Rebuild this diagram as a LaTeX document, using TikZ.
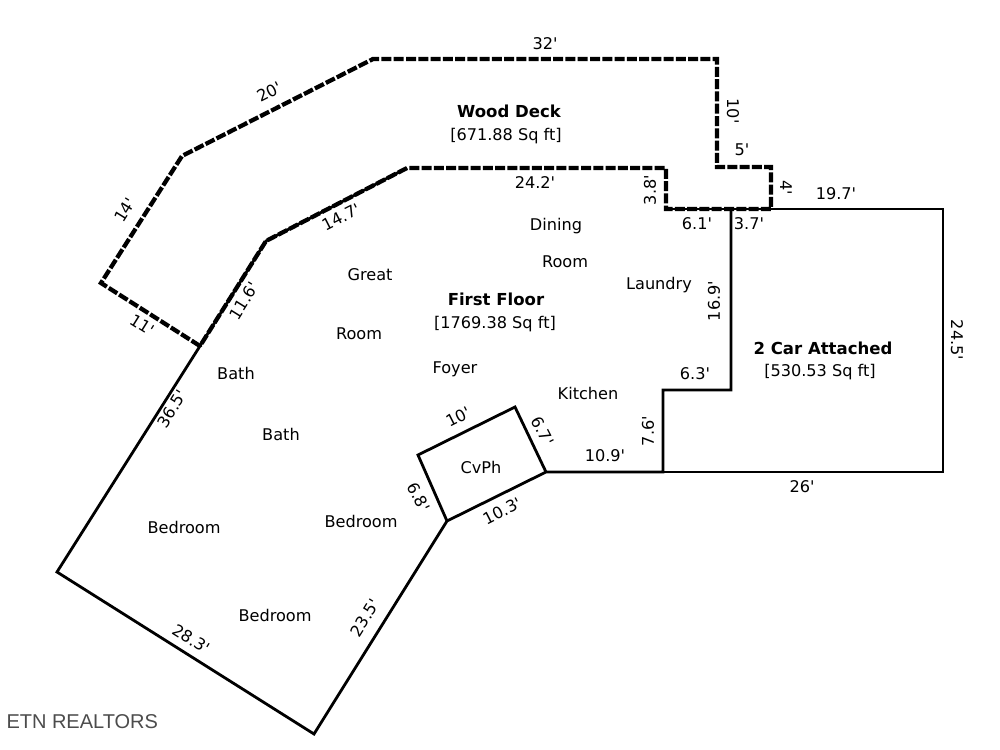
\documentclass[tikz,border=0pt]{standalone}
\usepackage{fontspec}
\setmainfont{DejaVu Sans}[Ligatures=TeXOff]
\newfontfamily\logofont{Liberation Sans}
\tikzset{every picture/.style={line width=0.75pt}}
\tikzset{
	wall/.style={line width=2.1pt,line join=miter},
	deck/.style={line width=3.2pt,dash pattern=on 7.5pt off 1.7pt},
	room/.style={inner sep=0.75pt,font=\fontsize{12.1}{14}\selectfont},
	dim/.style={inner sep=0.75pt,font=\fontsize{12.1}{14}\selectfont},
	head/.style={inner sep=0.75pt,font=\fontsize{12.4}{14}\selectfont\bfseries},
}
\begin{document}
\begin{tikzpicture}[x=0.75pt,y=0.75pt,yscale=-1,xscale=1]
	\useasboundingbox (0,0) rectangle (1000,750);
	%outer corners
	\coordinate (dka) at (200,346);
	\coordinate (dkb) at (101,283);
	\coordinate (dkc) at (182,156);
	\coordinate (dkd) at (373,59);
	\coordinate (dke) at (717,59);
	\coordinate (dkf) at (717,167);
	\coordinate (dkg) at (771,167);
	\coordinate (dkh) at (771,209);
	\coordinate (dki) at (666,209);
	\coordinate (dkj) at (666,168);
	\coordinate (dkk) at (407,168);
	\coordinate (dkl) at (266,241);
	\coordinate (hsa) at (57,572);
	\coordinate (hsb) at (314,734);
	\coordinate (hsc) at (447,521);
	\coordinate (hsd) at (546,472);
	\coordinate (hse) at (663,472);
	\coordinate (hsf) at (663,390);
	\coordinate (hsg) at (731,390);
	\coordinate (hsh) at (731,209);
	\coordinate (gra) at (943,209);
	\coordinate (grb) at (943,472);
	\coordinate (cva) at (418,455);
	\coordinate (cvb) at (515,407);
	
	%First floor
	\draw [wall] (dkk) -- (dkl) -- (dka) -- (hsa) -- (hsb) -- (hsc) -- (hsd) -- (hse) -- (hsf) -- (hsg) -- (hsh) ;
	\draw [wall] (dki) -- (dkh) ;
	%Garage
	\draw [wall] (dkh) -- (gra) -- (grb) -- (hse) ;
	%Covered porch
	\draw [wall] (hsc) -- (cva) -- (cvb) -- (hsd) ;
	%Deck
	\draw [deck] (dka) -- (dkb) -- (dkc) -- (dkd) -- (dke) -- (dkf) -- (dkg) -- (dkh) -- (dki) -- (dkj) -- (dkk) -- (dkl) -- (dka) ;
	
	% Headings
	\node [head] (deckname) at (509,111) {Wood Deck};
	\node [room] (deckarea) at (506,136) {[671.88 Sq ft]};
	\node [head] (floorname) at (496,299) {First Floor};
	\node [room] (floorarea) at (495,324) {[1769.38 Sq ft]};
	\node [head] (garname) at (823,348) {2 Car Attached};
	\node [room] (gararea) at (820,372) {[530.53 Sq ft]};
	
	% Rooms
	\node [room] (dining) at (556,226) {Dining};
	\node [room] (diningb) at (565,262) {Room};
	\node [room] (laundry) at (659,285) {Laundry};
	\node [room] (great) at (370,275) {Great};
	\node [room] (greatb) at (359,334) {Room};
	\node [room] (batha) at (236,373) {Bath};
	\node [room] (bathb) at (281,434) {Bath};
	\node [room] (foyer) at (455,369) {Foyer};
	\node [room] (kitchen) at (588,393) {Kitchen};
	\node [room] (cvph) at (481,467) {CvPh};
	\node [room] (beda) at (184,527) {Bedroom};
	\node [room] (bedb) at (361,521) {Bedroom};
	\node [room] (bedc) at (275,615) {Bedroom};
	
	% Dimensions
	\node [dim] (dima) at (545,44) {32'};
	\node [dim,rotate=27] (dimb) at (269,92) {20'};
	\node [dim,rotate=58] (dimc) at (125,210) {14'};
	\node [dim,rotate=-32] (dimd) at (142,325) {11'};
	\node [dim,rotate=-90] (dime) at (733,111) {10'};
	\node [dim] (dimf) at (742,150) {5'};
	\node [dim,rotate=-90] (dimg) at (786,188) {4'};
	\node [dim] (dimh) at (836,194) {19.7'};
	\node [dim,rotate=90] (dimi) at (650,190) {3.8'};
	\node [dim] (dimj) at (535,183) {24.2'};
	\node [dim] (dimk) at (697,224) {6.1'};
	\node [dim] (diml) at (749,224) {3.7'};
	\node [dim,rotate=27] (dimm) at (341,217) {14.7'};
	\node [dim,rotate=58] (dimn) at (244,301) {11.6'};
	\node [dim,rotate=90] (dimo) at (714,301) {16.9'};
	\node [dim,rotate=-90] (dimp) at (957,340) {24.5'};
	\node [dim] (dimq) at (695,374) {6.3'};
	\node [dim,rotate=90] (dimr) at (648,431) {7.6'};
	\node [dim] (dims) at (605,456) {10.9'};
	\node [dim] (dimt) at (802,487) {26'};
	\node [dim,rotate=58] (dimu) at (172,409) {36.5'};
	\node [dim,rotate=27] (dimv) at (458,417) {10'};
	\node [dim,rotate=-63] (dimw) at (543,431) {6.7'};
	\node [dim,rotate=-63] (dimx) at (419,497) {6.8'};
	\node [dim,rotate=27] (dimy) at (502,511) {10.3'};
	\node [dim,rotate=58] (dimz) at (365,618) {23.5'};
	\node [dim,rotate=-32] (dimaa) at (191,639) {28.3'};
	
	% Logo
	\node [inner sep=0.75pt,anchor=west,text=black!70,font=\logofont\fontsize{15}{17}\selectfont] (logo) at (5,722) {ETN REALTORS};
\end{tikzpicture}
\end{document}
